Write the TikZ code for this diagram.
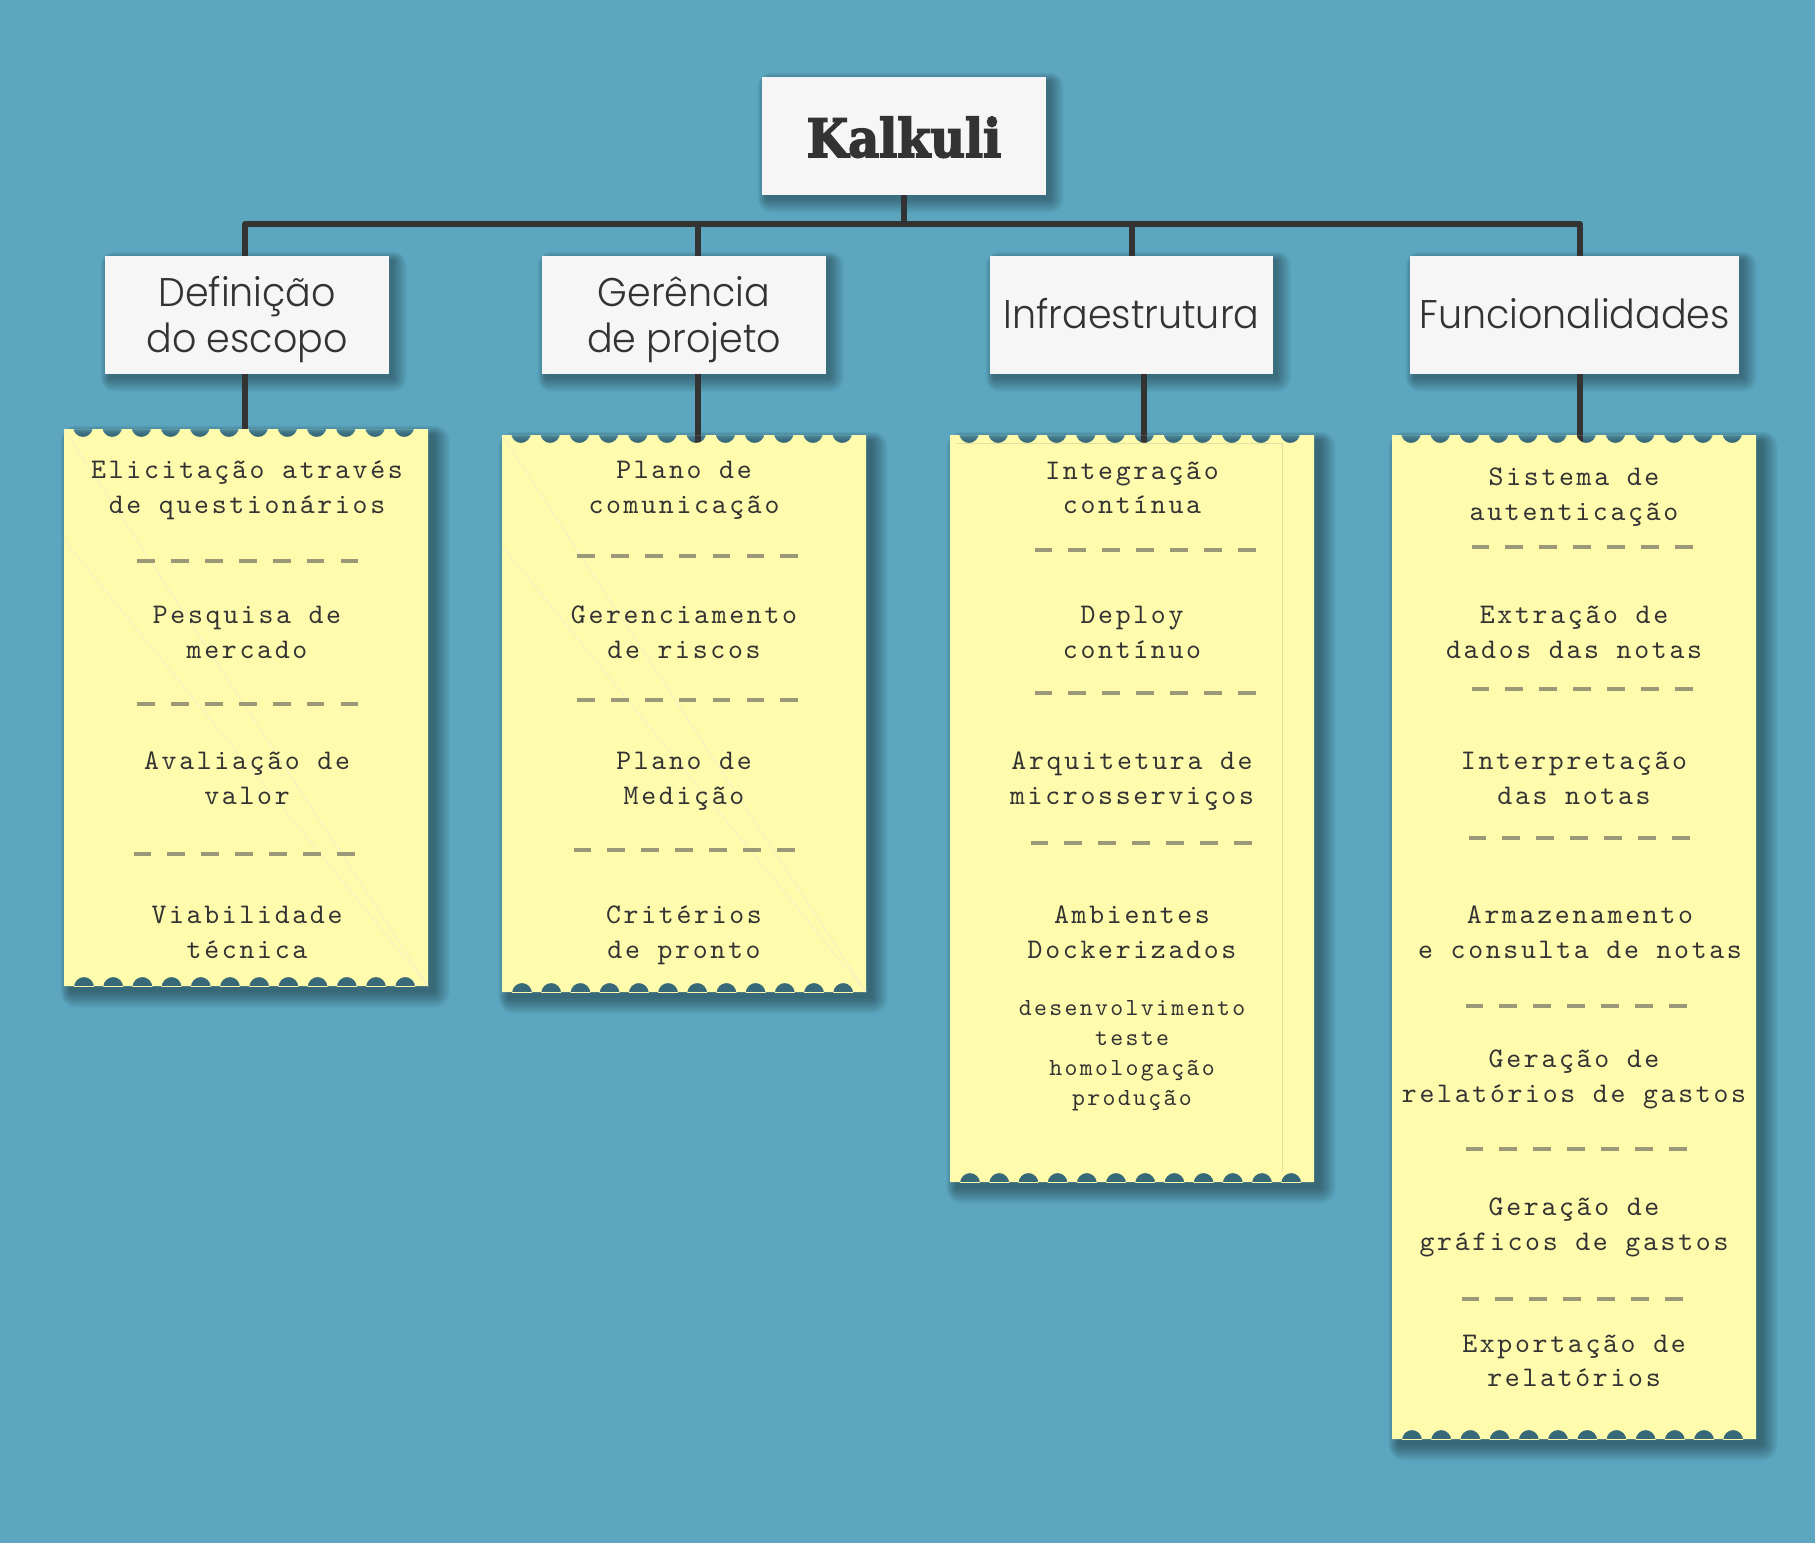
\documentclass[tikz,border=0pt]{standalone}
\usepackage{fontspec}
\usetikzlibrary{calc}
\IfFontExistsTF{Poppins Light}{\newfontfamily\headfont{Poppins Light}[FakeStretch=0.95]}{\newfontfamily\headfont{Poppins}[FakeStretch=0.95]}
\IfFontExistsTF{DejaVu Serif Condensed Bold}{\newfontfamily\titlefont{DejaVu Serif Condensed Bold}[FakeBold=3]}{\newfontfamily\titlefont{DejaVu Serif}[FakeBold=3.5]}
\newfontfamily\monofont{lmmono10-regular.otf}[LetterSpace=9.5]
\definecolor{bgcol}{RGB}{92,166,192}
\definecolor{boxgray}{RGB}{246,246,246}
\definecolor{paperfill}{RGB}{255,251,173}
\definecolor{textcol}{RGB}{51,51,51}
\definecolor{linecol}{RGB}{51,51,51}
\definecolor{dashcol}{RGB}{155,152,120}
\definecolor{foldcol}{RGB}{226,223,160}
\definecolor{diagcol}{RGB}{243,241,196}
\pgfdeclarelayer{bgl}
\pgfdeclarelayer{shadowl}
\pgfdeclarelayer{linesl}
\pgfsetlayers{bgl,shadowl,linesl,main}
\newcommand{\softshadow}[3]{%
  \foreach \k in {0,...,#3} {%
    \fill[black, opacity=0.024, rounded corners=\k pt]
      ([shift={(#2-0.6*\k,#2-0.6*\k)}]#1.north west) rectangle ([shift={(#2+\k,#2+\k)}]#1.south east);}}
\newcommand{\paperbody}[1]{%
  \begin{scope}
    \clip (#1.north west) rectangle (#1.south east);
    \fill[paperfill, even odd rule] (#1.north west) rectangle (#1.south east)
      \foreach \k in {0,...,11} {
        ($(#1.north west)+(19+29.2*\k,-2)$) circle[radius=10]
        ($(#1.south west)+(20+29.2*\k,1)$) circle[radius=10]};
  \end{scope}}
\newcommand{\twoline}[6]{%
  \node[mono] (#1a) at (#2,#3) {#5};
  \node[mono] (#1b) at (#2,#4) {#6};}
\newcommand{\dashrow}[2]{\draw[dashline] (#1-110.5,#2) -- (#1+110.5,#2);}
\begin{document}
\begin{tikzpicture}[x=1pt,y=-1pt,
  hbox/.style={fill=boxgray, inner sep=0pt, outer sep=0pt, minimum height=118pt},
  paperarea/.style={inner sep=0pt, outer sep=0pt, minimum width=364pt},
  conn/.style={line width=5.8pt, draw=linecol, line join=round},
  mono/.style={font=\monofont\fontsize{28.4}{35}\selectfont, text=textcol, inner sep=0pt, anchor=base},
  monosmall/.style={mono, font=\monofont\fontsize{24.6}{30}\selectfont},
  headtext/.style={font=\headfont\fontsize{40}{46}\selectfont, text=textcol, inner sep=0pt, anchor=base},
  titletext/.style={font=\titlefont\fontsize{53}{60}\selectfont, text=textcol, inner sep=0pt, anchor=base},
  dashline/.style={draw=dashcol, line width=3.3pt, dash pattern=on 17.7pt off 16.2pt},
  foldline/.style={draw=foldcol, line width=0.8pt},
  diagline/.style={draw=diagcol, line width=0.8pt}
]
\begin{pgfonlayer}{bgl}
  \fill[bgcol] (0,0) rectangle (1815,1543);
\end{pgfonlayer}
\useasboundingbox (0,0) rectangle (1815,1543);

% header boxes
\node[hbox, minimum width=284pt] (root) at (904,136) {};
\node[titletext] (rootT) at (904,157) {Kalkuli};
\node[hbox, minimum width=284pt] (def) at (247,315) {};
\node[headtext] (defT1) at (247,306) {Definição};
\node[headtext] (defT2) at (247,352) {do escopo};
\node[hbox, minimum width=284pt] (ger) at (684,315) {};
\node[headtext] (gerT1) at (684,306) {Gerência};
\node[headtext] (gerT2) at (684,352) {de projeto};
\node[hbox, minimum width=283pt] (inf) at (1131.5,315) {};
\node[headtext] (infT) at (1131.5,328) {Infraestrutura};
\node[hbox, minimum width=329pt] (fun) at (1574.5,315) {};
\node[headtext] (funT) at (1574.5,328) {Funcionalidades};

% papers
\node[paperarea, minimum height=557pt] (p1) at (246,707.5) {};
\node[paperarea, minimum height=557pt] (p2) at (684,713.5) {};
\node[paperarea, minimum height=747pt] (p3) at (1132,808.5) {};
\node[paperarea, minimum height=1004pt] (p4) at (1574,937) {};
\paperbody{p1}
\paperbody{p2}
\paperbody{p3}
\paperbody{p4}
\draw[diagline] (p1.north west) -- (p1.south east);
\draw[diagline] ([yshift=-111pt]p1.north west) -- (p1.south east);
\draw[diagline] (p2.north west) -- (p2.south east);
\draw[diagline] ([yshift=-111pt]p2.north west) -- (p2.south east);
\draw[foldline] ([shift={(7,8)}]p3.north west) -- ([shift={(-32,8)}]p3.north east) -- ([shift={(-32,-10)}]p3.south east);

% shadows
\begin{pgfonlayer}{shadowl}
  \softshadow{root}{4}{14}
  \softshadow{def}{4}{14}
  \softshadow{ger}{4}{14}
  \softshadow{inf}{4}{14}
  \softshadow{fun}{4}{14}
  \softshadow{p1}{6}{16}
  \softshadow{p2}{6}{16}
  \softshadow{p3}{6}{16}
  \softshadow{p4}{6}{16}
\end{pgfonlayer}

% connectors
\begin{pgfonlayer}{linesl}
  \coordinate (j1) at (245,224);
  \coordinate (j2) at (698,224);
  \coordinate (j3) at (1132,224);
  \coordinate (j4) at (1580,224);
  \coordinate (j5) at (1144,224);
  \draw[conn] (j1 |- def.north) -- (j1) -- (j4) -- (j4 |- fun.north);
  \draw[conn] (root.south) -- (root.south |- j1);
  \draw[conn] (j2) -- (j2 |- ger.north);
  \draw[conn] (j3) -- (j3 |- inf.north);
  \draw[conn] (j1 |- def.south) -- ([yshift=-8pt]j1 |- p1.north);
  \draw[conn] (j2 |- ger.south) -- ([yshift=-8pt]j2 |- p2.north);
  \draw[conn] (j5 |- inf.south) -- ([yshift=-8pt]j5 |- p3.north);
  \draw[conn] (j4 |- fun.south) -- ([yshift=-8pt]j4 |- p4.north);
\end{pgfonlayer}

% paper 1
\twoline{a1}{247}{478}{513}{Elicitação através}{de questionários}
\dashrow{247.7}{561}
\twoline{a2}{247}{623}{658}{Pesquisa de}{mercado}
\dashrow{247.7}{704}
\twoline{a3}{247}{769}{804}{Avaliação de}{valor}
\dashrow{244}{854}
\twoline{a4}{247}{923}{958}{Viabilidade}{técnica}

% paper 2
\twoline{b1}{684}{478}{513}{Plano de}{comunicação}
\dashrow{687.5}{556}
\twoline{b2}{684}{623}{658}{Gerenciamento}{de riscos}
\dashrow{687.5}{700}
\twoline{b3}{684}{769}{804}{Plano de}{Medição}
\dashrow{684}{850}
\twoline{b4}{684}{923}{958}{Critérios}{de pronto}

% paper 3
\twoline{c1}{1132}{479}{513}{Integração}{contínua}
\dashrow{1145}{550}
\twoline{c2}{1132}{623}{658}{Deploy}{contínuo}
\dashrow{1145}{693}
\twoline{c3}{1132}{769}{804}{Arquitetura de}{microsserviços}
\dashrow{1141}{843}
\twoline{c4}{1132}{923}{958}{Ambientes}{Dockerizados}
\node[monosmall] (c5a) at (1132,1015) {desenvolvimento};
\node[monosmall] (c5b) at (1132,1045) {teste};
\node[monosmall] (c5c) at (1132,1075) {homologação};
\node[monosmall] (c5d) at (1132,1105) {produção};

% paper 4
\twoline{d1}{1574}{485}{520}{Sistema de}{autenticação}
\dashrow{1582}{547}
\twoline{d2}{1574}{623}{658}{Extração de}{dados das notas}
\dashrow{1582}{689}
\twoline{d3}{1574}{769}{804}{Interpretação}{das notas}
\dashrow{1579}{838}
\twoline{d4}{1580}{923}{958}{Armazenamento}{e consulta de notas}
\dashrow{1576}{1006}
\twoline{d5}{1574}{1067}{1102}{Geração de}{relatórios de gastos}
\dashrow{1576}{1149}
\twoline{d6}{1574}{1215}{1250}{Geração de}{gráficos de gastos}
\dashrow{1572}{1299}
\twoline{d7}{1574}{1352}{1386}{Exportação de}{relatórios}
\end{tikzpicture}
\end{document}
